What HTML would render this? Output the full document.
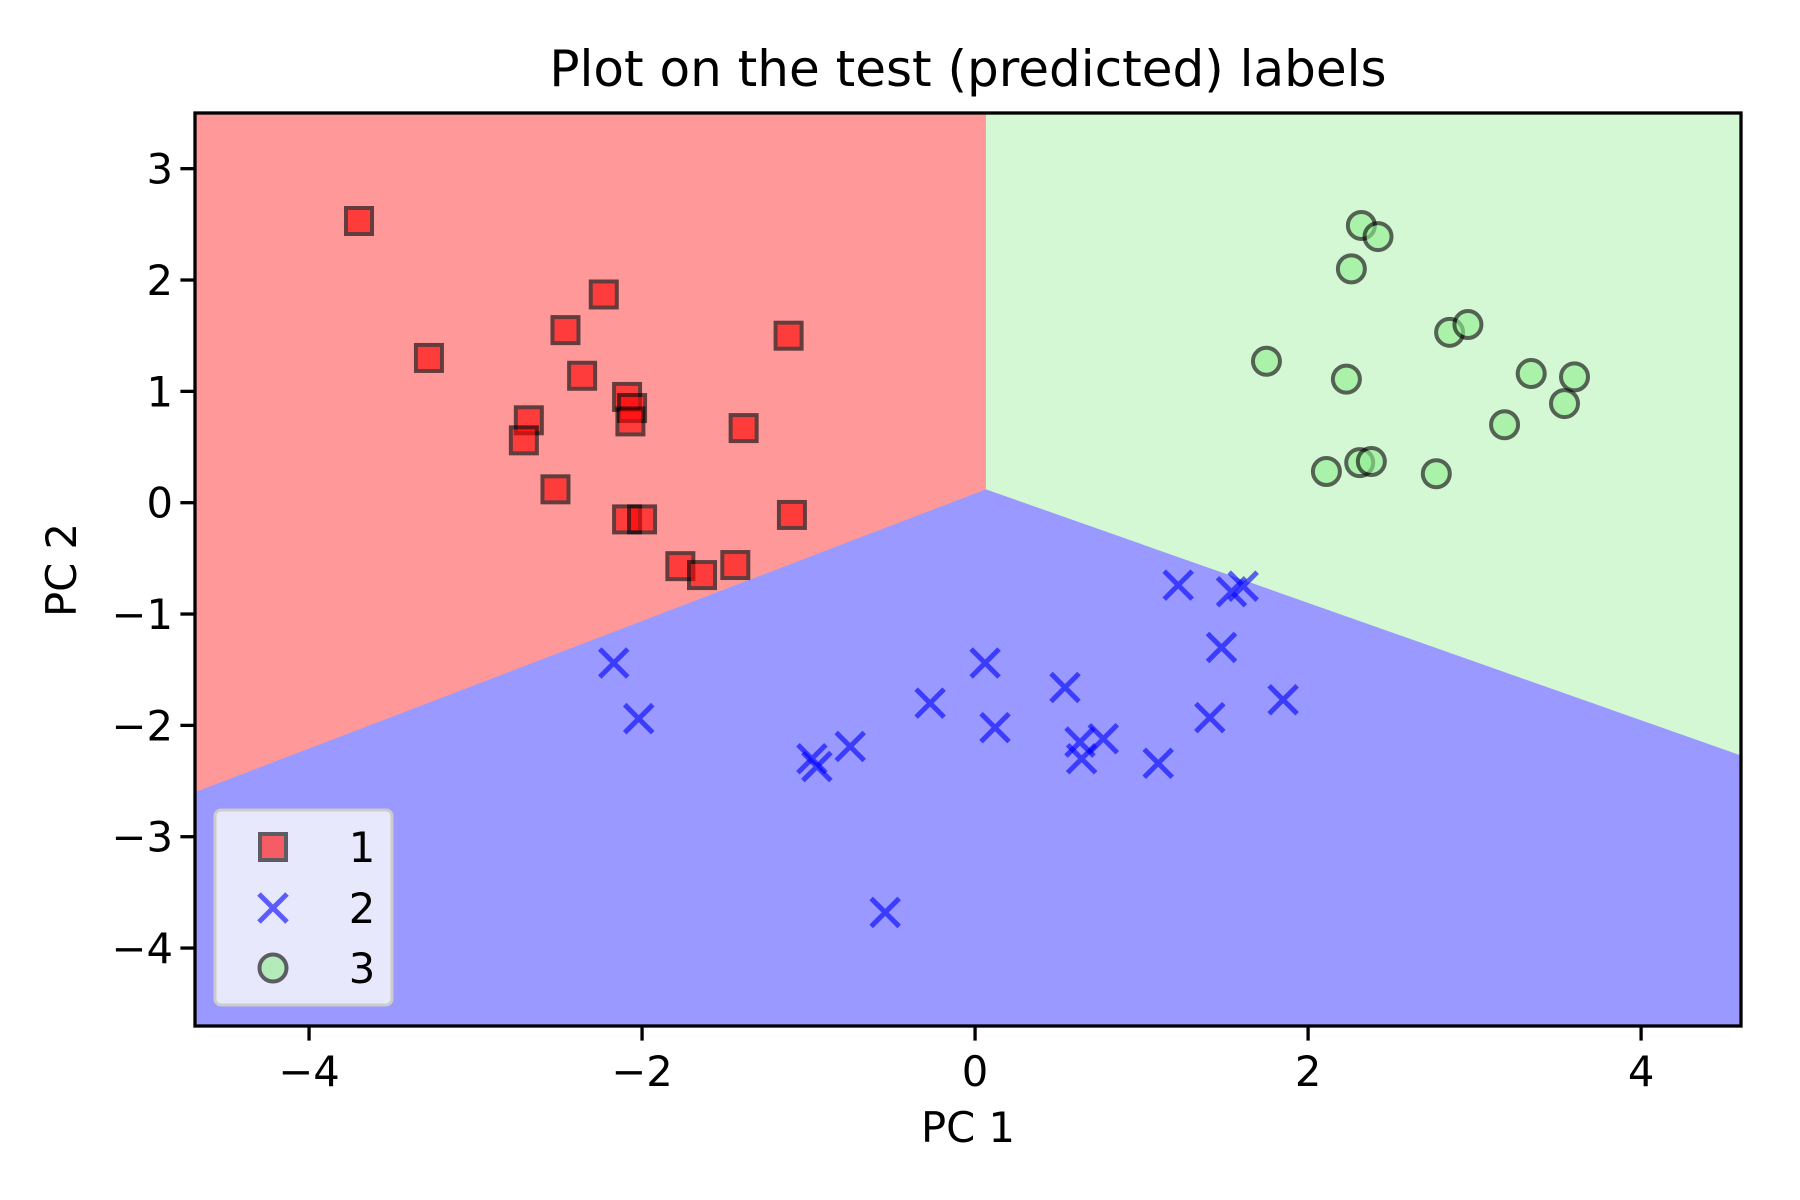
<!DOCTYPE html>
<html><head><meta charset="utf-8"><style>
html,body{margin:0;padding:0;background:#fff;}
svg{display:block;font-family:"DejaVu Sans","Liberation Sans",sans-serif;}
</style></head><body>
<svg id="chart" width="1800" height="1200" viewBox="0 0 1800 1200" xmlns="http://www.w3.org/2000/svg">
<text x="968" y="86" font-size="50" text-anchor="middle">Plot on the test (predicted) labels</text>
<g id="regions"></g>
<g id="marks"></g>
<g id="axes"></g>
<text x="968" y="1142" font-size="41.7" text-anchor="middle">PC 1</text>
<text transform="translate(76,570) rotate(-90)" font-size="41.7" text-anchor="middle">PC 2</text>
<g>
<rect x="215" y="810" width="177" height="195" rx="6" fill="#e8e8fc" stroke="#cccccc" stroke-width="3"/>
<g>
<rect x="260" y="834" width="26" height="26" fill="red" stroke="black" stroke-width="4" opacity="0.6"/>
<text x="362" y="862" font-size="41.7" text-anchor="middle">1</text></g>
<g opacity="0.6">
<path d="M259,894 L287,922 M287,894 L259,922" stroke="blue" stroke-width="5"/></g>
<text x="362" y="923" font-size="41.7" text-anchor="middle">2</text>
<g>
<circle cx="273" cy="968" r="13.5" fill="lightgreen" stroke="black" stroke-width="4" opacity="0.6"/>
<text x="362" y="983" font-size="41.7" text-anchor="middle">3</text></g>
</g>
</svg>
<script>
const class1X=[-3.70,-3.28,-2.23,-2.46,-2.36,-1.12,-2.09,-2.06,-2.07,-2.68,-2.71,-1.39,-2.52,-2.09,-2.00,-1.10,-1.77,-1.64,-1.44];
const class1Y=[2.53,1.30,1.87,1.55,1.14,1.50,0.95,0.85,0.73,0.74,0.56,0.67,0.12,-0.15,-0.15,-0.11,-0.57,-0.65,-0.56];
const class2X=[-2.17,-2.02,-0.98,-0.95,-0.75,-0.27,0.06,0.12,0.54,0.63,0.64,0.77,1.10,1.22,1.54,1.61,1.48,1.41,1.85,-0.54];
const class2Y=[-1.44,-1.94,-2.30,-2.37,-2.19,-1.80,-1.44,-2.02,-1.66,-2.15,-2.30,-2.12,-2.34,-0.74,-0.80,-0.75,-1.30,-1.93,-1.77,-3.68];
const class3X=[2.32,2.42,2.26,1.75,2.23,2.85,2.96,3.34,3.60,3.54,3.18,2.11,2.31,2.38,2.77];
const class3Y=[2.49,2.39,2.10,1.27,1.11,1.53,1.60,1.16,1.13,0.89,0.70,0.28,0.36,0.37,0.26];
const xTicks=[-4,-2,0,2,4];
const yTicks=[3,2,1,0,-1,-2,-3,-4];
const vertex=[0.065,0.12];
const leftBoundaryY=-2.60;
const rightBoundaryY=-2.27;
const xMin=-4.685,xMax=4.60,yMin=-4.70,yMax=3.50;
const L=195,R=1741,T=113,B=1026;
function sx(v){return L+(v-xMin)/(xMax-xMin)*(R-L);}
function sy(v){return B-(v-yMin)/(yMax-yMin)*(B-T);}
const NS='http://www.w3.org/2000/svg';
function mk(tag,attrs,parent){const e=document.createElementNS(NS,tag);for(const k in attrs)e.setAttribute(k,attrs[k]);parent.appendChild(e);return e;}
const reg=document.getElementById('regions');
const vx=sx(vertex[0]),vy=sy(vertex[1]);
const blue=mk('rect',{x:L,y:T,width:R-L,height:B-T,fill:'#9999ff'},reg);


const red=mk('polygon',{points:`${L},${T} ${vx},${T} ${vx},${vy} ${L},${sy(leftBoundaryY)}`,fill:'#ff9999'},reg);


const green=mk('polygon',{points:`${vx},${T} ${R},${T} ${R},${sy(rightBoundaryY)} ${vx},${vy}`,fill:'#d3f8d3'},reg);


const marks=document.getElementById('marks');
for(let i=0;i<class1X.length;i++){
 const r=mk('rect',{x:sx(class1X[i])-13,y:sy(class1Y[i])-13,width:26,height:26,fill:'red',stroke:'black','stroke-width':4,opacity:0.6},marks);
 
 
}
for(let i=0;i<class2X.length;i++){
 const cx=sx(class2X[i]),cy=sy(class2Y[i]);
 const p=mk('path',{d:`M${cx-14},${cy-14} L${cx+14},${cy+14} M${cx+14},${cy-14} L${cx-14},${cy+14}`,stroke:'blue','stroke-width':5,opacity:0.6},marks);
 
 
}
for(let i=0;i<class3X.length;i++){
 const c=mk('circle',{cx:sx(class3X[i]),cy:sy(class3Y[i]),r:13.5,fill:'lightgreen',stroke:'black','stroke-width':4,opacity:0.6},marks);
 
 
}
const ax=document.getElementById('axes');
const frame=mk('rect',{x:L,y:T,width:R-L,height:B-T,fill:'none',stroke:'black','stroke-width':3.3},ax);


xTicks.forEach(t=>{
 const x=sx(t);
 const l=mk('line',{x1:x,x2:x,y1:B,y2:B+14.6,stroke:'black','stroke-width':3.3},ax);
 
 
 const tx=mk('text',{x:x,y:B+60,'font-size':41.7,'text-anchor':'middle'},ax);
 tx.textContent=t<0?'\u2212'+Math.abs(t):String(t);
 
 
});
yTicks.forEach(t=>{
 const y=sy(t);
 const l=mk('line',{x1:L-14.6,x2:L,y1:y,y2:y,stroke:'black','stroke-width':3.3},ax);
 
 
 const tx=mk('text',{x:L-22,y:y+15,'font-size':41.7,'text-anchor':'end'},ax);
 tx.textContent=t<0?'\u2212'+Math.abs(t):String(t);
 
 
});
</script>
</body></html>
